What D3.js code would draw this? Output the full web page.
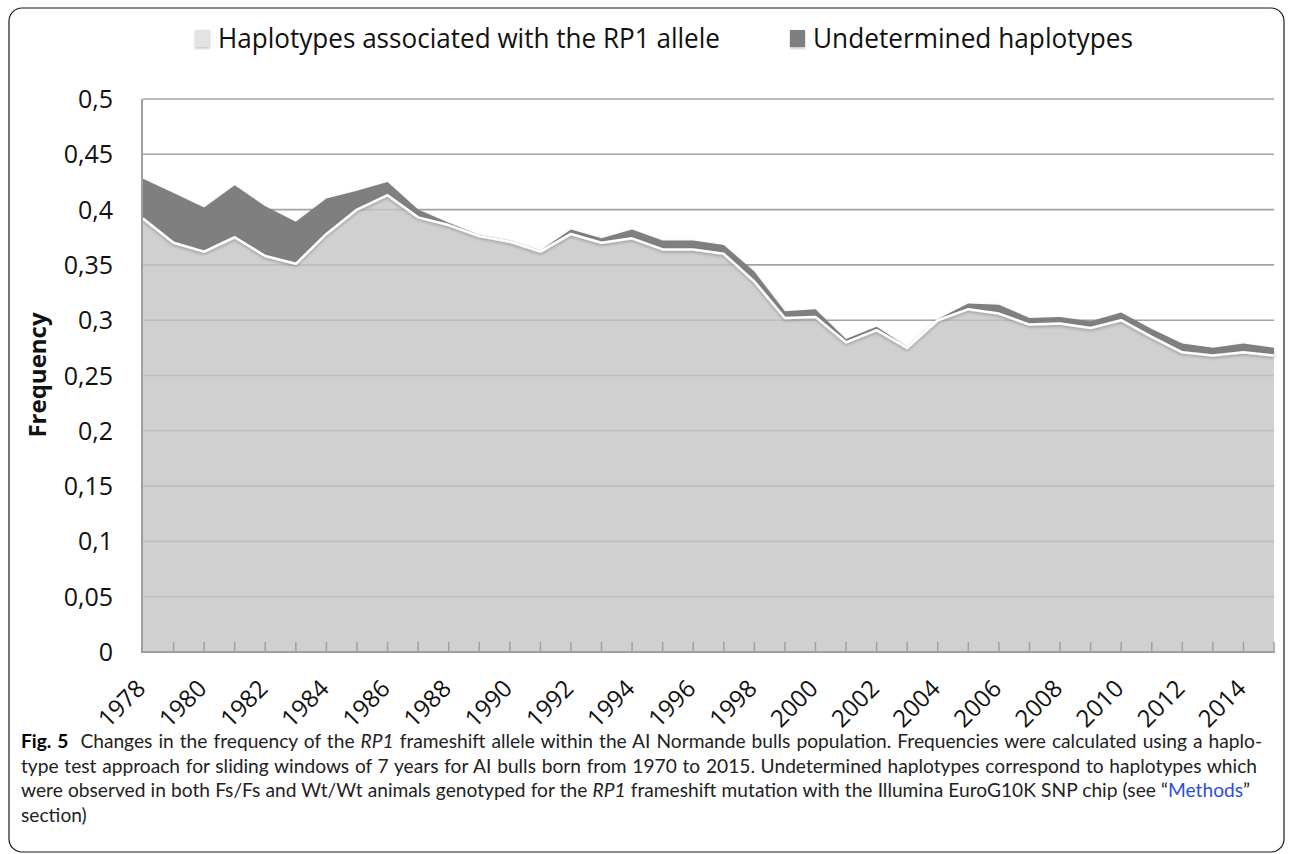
<!DOCTYPE html>
<html>
<head>
<meta charset="utf-8">
<script src="https://cdn.jsdelivr.net/npm/d3@7"></script>
<style>
  html, body { margin: 0; padding: 0; background: #fff; }
  svg { display: block; }
</style>
</head>
<body>
<svg id="chart" width="1292" height="854"></svg>
<script>
// ---------- DATA ----------
const years = [1978,1979,1980,1981,1982,1983,1984,1985,1986,1987,1988,1989,1990,1991,1992,1993,1994,1995,1996,1997,1998,1999,2000,2001,2002,2003,2004,2005,2006,2007,2008,2009,2010,2011,2012,2013,2014,2015];
const rp1 = [0.392,0.370,0.362,0.375,0.358,0.351,0.378,0.400,0.413,0.393,0.386,0.376,0.371,0.362,0.378,0.370,0.374,0.364,0.364,0.360,0.335,0.302,0.303,0.280,0.291,0.275,0.300,0.310,0.306,0.296,0.297,0.293,0.300,0.285,0.271,0.268,0.271,0.268];
const undetermined = [0.036,0.045,0.040,0.047,0.045,0.038,0.032,0.017,0.012,0.007,0.002,0.001,0.001,0.001,0.004,0.004,0.008,0.008,0.008,0.008,0.009,0.006,0.007,0.003,0.003,0.001,0.001,0.005,0.008,0.006,0.006,0.006,0.007,0.007,0.008,0.007,0.008,0.007];
const seriesNames = ["Haplotypes associated with the RP1 allele", "Undetermined haplotypes"];
const yTicks = [0,0.05,0.1,0.15,0.2,0.25,0.3,0.35,0.4,0.45,0.5];
const yTickLabels = ["0","0,05","0,1","0,15","0,2","0,25","0,3","0,35","0,4","0,45","0,5"];
const xLabelYears = [1978,1980,1982,1984,1986,1988,1990,1992,1994,1996,1998,2000,2002,2004,2006,2008,2010,2012,2014];
const yTitle = "Frequency";

// ---------- SETUP ----------
const svg = d3.select("#chart");
const L = 143, R = 1274, T = 99, B = 652;
const x = d3.scalePoint().domain(years).range([L, R]);
const y = d3.scaleLinear().domain([0, 0.5]).range([B, T]);

const defs = svg.append("defs");
const sh = defs.append("filter").attr("id","shadow").attr("x","-5%").attr("y","-5%").attr("width","110%").attr("height","120%");
sh.append("feDropShadow").attr("dx",0).attr("dy",1.5).attr("stdDeviation",1.5).attr("flood-color","#000").attr("flood-opacity",0.25);

// frame
svg.append("rect").attr("x",9).attr("y",8).attr("width",1275).attr("height",844)
  .attr("rx",13).attr("fill","none").attr("stroke","#1a1a1a").attr("stroke-width",1.2);

// gridlines
svg.append("g").selectAll("line").data(yTicks.filter(d => d > 0)).join("line")
  .attr("x1", L).attr("x2", R).attr("y1", d => y(d)).attr("y2", d => y(d))
  .attr("stroke", "#a3a3a3").attr("stroke-width", 1.6);

// stacked data
const table = years.map((yr, i) => ({year: yr, rp1: rp1[i], und: undetermined[i]}));
const stack = d3.stack().keys(["rp1","und"]);
const layers = stack(table);

const area = d3.area().x(d => x(d.data.year)).y0(d => y(d[0])).y1(d => y(d[1]));
const topLine = d3.line().x(d => x(d.data.year)).y(d => y(d[1]));

// undetermined (upper) layer
svg.append("path").datum(layers[1]).attr("d", area)
  .attr("fill", "#7f7f7f").attr("filter","url(#shadow)");
// rp1 (lower) layer
svg.append("path").datum(layers[0]).attr("d", area)
  .attr("fill", "rgb(196,196,196)").attr("fill-opacity", 0.8);
svg.append("path").datum(layers[0]).attr("d", topLine)
  .attr("fill","none").attr("stroke","#ffffff").attr("stroke-width",2.5)
  .attr("stroke-linejoin","round").attr("filter","url(#shadow)");

// axes lines
svg.append("line").attr("x1", L-1).attr("x2", L-1).attr("y1", T).attr("y2", B+1)
  .attr("stroke","#a0a0a0").attr("stroke-width",2);
svg.append("line").attr("x1", L-2).attr("x2", R+1).attr("y1", B).attr("y2", B)
  .attr("stroke","#a0a0a0").attr("stroke-width",2);
svg.append("g").selectAll("line").data(years.slice(1)).join("line")
  .attr("x1", d => x(d)).attr("x2", d => x(d)).attr("y1", B).attr("y2", B-10)
  .attr("stroke","#a0a0a0").attr("stroke-width",1.5);

// y tick labels
svg.append("g").selectAll("text").data(yTicks).join("text")
  .attr("x", 113).attr("y", d => y(d)).attr("dy","0.36em")
  .attr("text-anchor","end").attr("font-family","'Open Sans', sans-serif").attr("font-size",25)
  .attr("fill","#111").text((d,i) => yTickLabels[i]);

// x tick labels
svg.append("g").selectAll("text").data(xLabelYears).join("text")
  .attr("transform", d => `translate(${x(d)+4},690) rotate(-45)`)
  .attr("text-anchor","end").attr("font-family","'Open Sans', sans-serif").attr("font-size",24)
  .attr("fill","#111").text(d => d);

// y title
svg.append("text").attr("transform","translate(46,375) rotate(-90)")
  .attr("text-anchor","middle").attr("font-family","'Open Sans', sans-serif")
  .attr("font-weight","bold").attr("font-size",24).attr("fill","#111").text(yTitle);

// legend
const legend = [
  {sx:195, tx:218, w:502, fill:"#e3e3e3"},
  {sx:790, tx:813, w:320, fill:"#7f7f7f"}
];
legend.forEach((lg, i) => {
  svg.append("rect").attr("x", lg.sx).attr("y", 30).attr("width", 15).attr("height", 17)
    .attr("fill", lg.fill).attr("filter","url(#shadow)");
  svg.append("text").attr("x", lg.tx).attr("y", 48)
    .attr("font-family","'Open Sans', sans-serif").attr("font-size",27).attr("fill","#111")
    .attr("textLength", lg.w).attr("lengthAdjust","spacingAndGlyphs")
    .text(seriesNames[i]);
});

// caption (justified by word-spacing, shrinking font only if needed)
const capFont = "'Liberation Sans Narrow', Lato, 'Open Sans', sans-serif";
const capLines = [
  {y:748, w:1241, parts:[["Fig. 5","bold"],["  Changes in the frequency of the ",""],["RP1","italic"],[" frameshift allele within the AI Normande bulls population. Frequencies were calculated using a haplo-",""]]},
  {y:772.5, w:1236, parts:[["type test approach for sliding windows of 7 years for AI bulls born from 1970 to 2015. Undetermined haplotypes correspond to haplotypes which",""]]},
  {y:797, w:1229, parts:[["were observed in both Fs/Fs and Wt/Wt animals genotyped for the ",""],["RP1","italic"],[" frameshift mutation with the Illumina EuroG10K SNP chip (see \u201c",""],["Methods","link"],["\u201d",""]]},
  {y:821.5, w:null, parts:[["section)",""]]}
];
const capSize = 20;
const texts = capLines.map(ln => {
  const t = svg.append("text").attr("x", 21).attr("y", ln.y)
    .attr("font-family", capFont).attr("font-size", capSize).attr("fill","#222")
    .attr("xml:space","preserve");
  ln.parts.forEach(p => {
    const ts = t.append("tspan").text(p[0]);
    if (p[1] === "bold") ts.attr("font-weight","bold").attr("fill","#000");
    if (p[1] === "italic") ts.attr("font-style","italic");
    if (p[1] === "link") ts.attr("fill","#2b4de0");
  });
  return t;
});
// common font size so the longest line fits
let scale = 1;
capLines.forEach((ln, i) => {
  if (!ln.w) return;
  const nat = texts[i].node().getComputedTextLength();
  scale = Math.min(scale, (ln.w - 4) / nat);
});
const fs = capSize * scale;
texts.forEach(t => t.attr("font-size", fs));
capLines.forEach((ln, i) => {
  if (!ln.w) return;
  const nat = texts[i].node().getComputedTextLength();
  const full = ln.parts.map(p => p[0]).join("");
  const nSpaces = (full.match(/ /g) || []).length;
  texts[i].attr("word-spacing", Math.max(0, (ln.w - nat) / nSpaces));
});
</script>
</body>
</html>
